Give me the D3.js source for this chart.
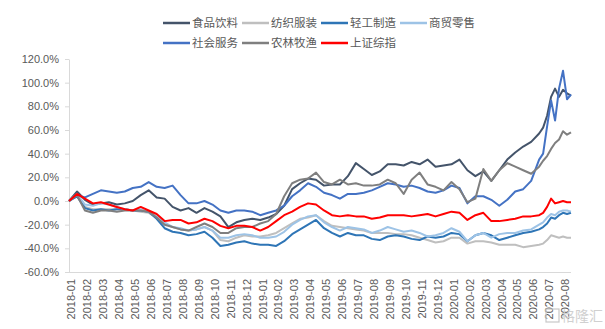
<!DOCTYPE html>
<html><head><meta charset="utf-8">
<script src="https://cdn.jsdelivr.net/npm/d3@7/dist/d3.min.js"></script>
<style>
html,body{margin:0;padding:0;background:#fff;}
svg{display:block;}
</style></head>
<body><svg id="c" width="605" height="329"></svg>
<script>
// x positions: half-month steps, then quarter-month steps for the last two months (in months since 2018-01)
const periods = d3.range(0, 29.75, 0.5).concat(d3.range(29.75, 31.6, 0.25));

const monthLabels = ["2018-01","2018-02","2018-03","2018-04","2018-05","2018-06","2018-07","2018-08","2018-09","2018-10","2018-11","2018-12",
  "2019-01","2019-02","2019-03","2019-04","2019-05","2019-06","2019-07","2019-08","2019-09","2019-10","2019-11","2019-12",
  "2020-01","2020-02","2020-03","2020-04","2020-05","2020-06","2020-07","2020-08"];

const yTicks = [-60, -40, -20, 0, 20, 40, 60, 80, 100, 120];

const seriesNames = ["食品饮料","纺织服装","轻工制造","商贸零售","社会服务","农林牧渔","上证综指"];

// cumulative change, %
const food = [0,8,1,-3,-2,-1,-3,-2,0,5, 9,3,2,-5,-8,-6,-10,-6,-9,-13, -22,-18,-16,-15,-16,-14,-11,-4,10,15,
  19,18,13,14,14,21,32,27,22,25, 31,31,30,33,31,35,29,30,31,35, 26,21,25,17,26,35,41,46,50,57, 62,72,88,95,88,94,91,89];
const textile = [0,4,-5,-7,-7,-7,-7,-7,-8,-9, -10,-14,-19,-22,-24,-25,-24,-22,-25,-33, -34,-31,-29,-30,-30,-29,-27,-23,-19,-15,
  -14,-12,-17,-21,-22,-23,-24,-25,-27,-27, -27,-28,-28,-29,-31,-33,-35,-34,-31,-31, -36,-34,-34,-35,-37,-37,-37,-39,-38,-37, -36,-33,-29,-30,-31,-30,-31,-31];
const lightInd = [0,4,-6,-8,-7,-8,-7,-7,-8,-8, -9,-15,-23,-26,-27,-29,-28,-26,-31,-38, -37,-35,-34,-36,-37,-37,-38,-34,-28,-24,
  -20,-16,-23,-27,-30,-27,-29,-29,-32,-33, -30,-29,-30,-32,-33,-30,-31,-30,-27,-28, -34,-29,-27,-29,-33,-31,-29,-27,-26,-24, -22,-19,-14,-15,-12,-10,-11,-10];
const retail = [0,6,-3,-4,-2,-3,-5,-7,-8,-7, -9,-13,-18,-22,-23,-25,-24,-22,-25,-31, -31,-29,-28,-29,-31,-31,-30,-26,-20,-16,
  -13,-12,-18,-22,-25,-22,-23,-24,-27,-25, -22,-24,-26,-25,-27,-30,-29,-27,-23,-26, -34,-29,-27,-31,-28,-27,-27,-25,-24,-20, -18,-14,-11,-12,-9,-8,-8,-9];
const services = [0,5,3,6,9,8,7,8,11,12, 16,12,11,13,5,-2,-2,0,-3,-8, -10,-8,-8,-9,-12,-10,-8,-4,4,9,
  15,12,7,5,2,6,6,7,9,12, 15,14,12,13,11,8,7,9,13,11, -2,4,4,1,-4,1,8,10,17,35, 40,63,85,68,95,110,86,90];
const agri = [0,5,-8,-10,-8,-8,-9,-8,-8,-8, -9,-14,-20,-22,-24,-25,-22,-19,-22,-27, -27,-23,-22,-22,-19,-17,-11,4,15,18,
  19,24,16,14,18,14,15,13,13,14, 18,15,6,18,24,14,12,9,16,10, -1,2,27,17,26,32,29,26,23,29, 34,38,44,49,52,59,56,58];
const sse = [0,6,2,-2,-1,-3,-5,-7,-8,-5, -8,-11,-17,-16,-16,-19,-18,-15,-17,-21, -23,-21,-21,-22,-25,-22,-17,-12,-9,-5,
  -2,-3,-8,-12,-13,-12,-13,-13,-15,-14, -12,-12,-12,-13,-12,-11,-13,-11,-9,-10, -16,-12,-10,-17,-17,-16,-15,-13,-13,-12, -10,-5,2,-2,-1,0,-1,-1];

const seriesValues = [food, textile, lightInd, retail, services, agri, sse];
const colors = ["#44546A","#BFBFBF","#2E75B6","#9DC3E6","#4472C4","#7F7F7F","#FF0000"];

const svg = d3.select("#c");
const x = d3.scaleLinear().domain([0, 31.5]).range([69, 571]);
const y = d3.scaleLinear().domain([-60, 120]).range([272, 59]);

const axisColor = "#D9D9D9";
const textColor = "#595959";

// Y axis
const gy = svg.append("g").attr("transform", "translate(69,0)")
  .call(d3.axisLeft(y).tickValues(yTicks).tickFormat(d => d.toFixed(1) + "%").tickSize(4).tickSizeOuter(0).tickPadding(6));
gy.select(".domain").attr("stroke", axisColor);
gy.selectAll(".tick line").attr("stroke", axisColor);
gy.selectAll("text").attr("fill", textColor).style("font-family", "'Liberation Sans', Arial, sans-serif").style("font-size", "11px");

// X axis
const labelOffset = 0.12;
const gx = svg.append("g").attr("transform", "translate(0,272)")
  .call(d3.axisBottom(x).tickValues(d3.range(monthLabels.length).map(i => i + labelOffset))
    .tickFormat((d, i) => monthLabels[i]).tickSize(0).tickSizeOuter(0));
gx.select(".domain").attr("stroke", axisColor).attr("d", "M69,0.5H571");
gx.selectAll("text")
  .attr("fill", textColor)
  .style("font-family", "'Liberation Sans', Arial, sans-serif").style("font-size", "11px")
  .attr("transform", "rotate(-90)")
  .attr("text-anchor", "end")
  .attr("x", -7).attr("y", 0).attr("dy", "0.35em");

// Lines
const line = d3.line().x((d, i) => x(periods[i])).y(d => y(d));
seriesValues.forEach((vals, k) => {
  svg.append("path").datum(vals)
    .attr("fill", "none").attr("stroke", colors[k]).attr("stroke-width", 2)
    .attr("stroke-linejoin", "round")
    .attr("d", line);
});

// Legend
const legendPos = [[163,23],[242,23],[321,23],[400,23],[163,43],[242,43],[321,43]];
seriesNames.forEach((name, k) => {
  const g = svg.append("g").attr("transform", `translate(${legendPos[k][0]},${legendPos[k][1]})`);
  g.append("line").attr("x1", 0).attr("x2", 27).attr("y1", 0).attr("y2", 0)
    .attr("stroke", colors[k]).attr("stroke-width", 2.5);
  g.append("text").attr("x", 29).attr("y", 0).attr("dy", "0.36em")
    .attr("fill", textColor)
    .style("font-family", "'Noto Sans CJK SC', sans-serif").style("font-size", "11.5px")
    .text(name);
});

// watermark
svg.append("rect").attr("x", 546).attr("y", 309).attr("width", 13).attr("height", 13)
  .attr("fill", "none").attr("stroke", "#c8c8c8").attr("stroke-width", 1.2);
svg.append("text").attr("x", 561).attr("y", 321).attr("fill", "#d0d0d0")
  .style("font-family", "'Noto Sans CJK SC', sans-serif").style("font-size", "14px").text("格隆汇");
</script></body></html>
